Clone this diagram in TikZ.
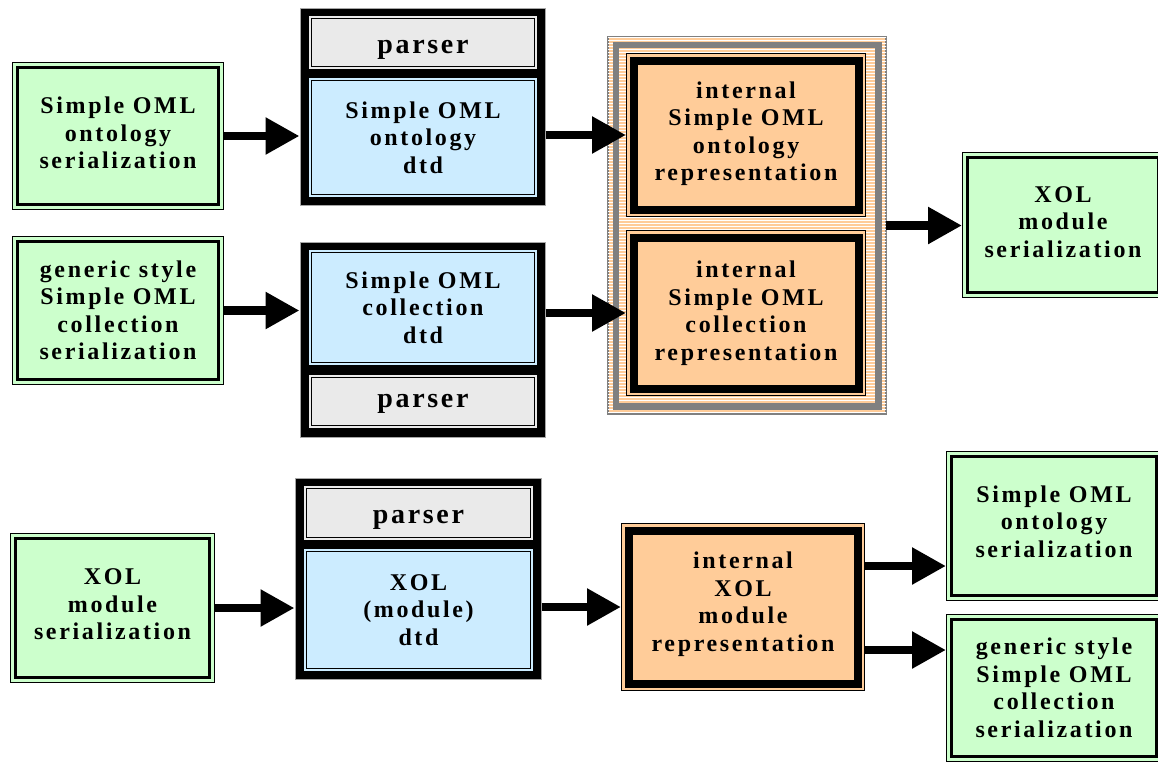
\documentclass[tikz,border=0pt]{standalone}
\usepackage{fontspec}
\newfontfamily\lblfont{Liberation Serif}[LetterSpace=11]
\newfontfamily\prsfont{Liberation Serif}[LetterSpace=9.5]
\usetikzlibrary{arrows.meta,patterns}
\definecolor{gfill}{HTML}{CCFFCC}
\definecolor{bfill}{HTML}{CCECFF}
\definecolor{pfill}{HTML}{EAEAEA}
\definecolor{ofill}{HTML}{FFCC99}
\definecolor{gband}{HTML}{808080}
\newcommand\dpth[1]{\rule[-#1]{0pt}{#1}}
\begin{document}
\begin{tikzpicture}[x=1pt,y=-1pt,
  lbl/.style={font=\lblfont\bfseries\fontsize{24}{27.5}\selectfont, align=center, text=black, inner sep=0pt},
  greenbox/.style={lbl, rectangle, fill=gfill, draw=black, line width=2.4pt, outer sep=5.6pt,
     preaction={draw=black, line width=11.2pt}, preaction={draw=gfill, line width=8.4pt}},
  dbox/.style={lbl, rectangle, fill=#1, draw=black, line width=1pt, outer sep=3.5pt,
     preaction={draw=black, line width=7pt}, preaction={draw=#1, line width=5pt}},
  pbox/.style={dbox=pfill, font=\prsfont\bfseries\fontsize{28}{30}\selectfont, text depth=0pt, text height=#1},
  obox/.style={lbl, rectangle, fill=ofill, draw=black, line width=8pt, outer sep=7.5pt,
     preaction={draw=black, line width=15pt}, preaction={draw=ofill, line width=13pt}},
  frame/.style={rectangle, fill=black, draw=gray!70, line width=1pt, inner sep=0pt, outer sep=0.5pt},
  grpbox/.style={rectangle, fill=ofill, postaction={pattern=horizontal lines, pattern color=white},
     draw=gband, line width=1.5pt, inner sep=0pt, outer sep=0pt},
  arr/.style={line width=8.5pt, -{Triangle[length=34pt,width=35pt]}}
]
\useasboundingbox (0,0) rectangle (1158,761);
\clip (0,0) rectangle (1158,761);

% ---- top row 1
\node[greenbox, minimum width=200.8pt, minimum height=136.8pt] (G1) at (118,136) {Simple OML\\ontology\\serialization\dpth{6pt}};
\node[frame, minimum width=245pt, minimum height=197pt] (g1) at (422.5,106.5) {};
\node[pbox=21pt, minimum width=223pt, minimum height=48pt] (p1) at (423,42.5) {parser};
\node[dbox=bfill, minimum width=223pt, minimum height=114pt] (d1) at (423,137.5) {Simple OML\\ontology\\dtd};

% ---- top row 2
\node[greenbox, minimum width=200.8pt, minimum height=137.8pt] (G2) at (118,310.5) {generic style\\Simple OML\\collection\\serialization};
\node[frame, minimum width=245pt, minimum height=195pt] (g2) at (422.5,339.5) {};
\node[dbox=bfill, minimum width=223pt, minimum height=110pt] (d2) at (423,307.5) {Simple OML\\collection\\dtd};
\node[pbox=11pt, minimum width=223pt, minimum height=48pt] (p2) at (423,401.5) {parser};

% ---- internal group
\node[grpbox, minimum width=278pt, minimum height=377pt] (grp) at (747,225.5) {};
\draw[gband, line width=6.5pt] ([shift={(7.75,7.75)}]grp.north west) rectangle ([shift={(-7.75,-7.75)}]grp.south east);
\node[obox, minimum width=225pt, minimum height=149pt] (O1) at (746,135) {internal\\Simple OML\\ontology\\representation\dpth{8pt}};
\node[obox, minimum width=225pt, minimum height=151pt] (O2) at (746,313) {internal\\Simple OML\\collection\\representation};

\node[greenbox, minimum width=190.8pt, minimum height=134.8pt] (X1) at (1063,225) {XOL\\module\\serialization\dpth{6pt}};

% ---- bottom row
\node[greenbox, minimum width=193.8pt, minimum height=138.8pt] (G3) at (112.5,608) {XOL\\module\\serialization\dpth{7pt}};
\node[frame, minimum width=246pt, minimum height=201pt] (g3) at (418,578.5) {};
\node[pbox=21pt, minimum width=224pt, minimum height=49pt] (p3) at (418.5,513) {parser};
\node[dbox=bfill, minimum width=224pt, minimum height=117pt] (d3) at (418.5,610) {XOL\\(module)\\dtd};
\node[obox, minimum width=229pt, minimum height=153pt] (O3) at (743,607) {internal\\XOL\\module\\representation\dpth{11pt}};
\node[greenbox, minimum width=204.8pt, minimum height=138.8pt] (Out1) at (1054,526) {Simple OML\\ontology\\serialization\dpth{9pt}};
\node[greenbox, minimum width=204.8pt, minimum height=136.8pt] (Out2) at (1054,688) {generic style\\Simple OML\\collection\\serialization};

% ---- connectors
\draw[arr] (G1.east) -- (G1.east -| g1.west);
\draw[arr] (O1.west -| g1.east) -- (O1.west);
\draw[arr] (G2.east) -- (G2.east -| g2.west);
\draw[arr] (O2.west -| g2.east) -- (O2.west);
\draw[arr] (grp.east) -- (grp.east -| X1.west);
\draw[arr] (G3.east) -- (G3.east -| g3.west);
\draw[arr] (O3.west -| g3.east) -- (O3.west);
\coordinate (ya) at (0,566);
\coordinate (yb) at (0,650);
\draw[arr] (O3.east |- ya) -- (Out1.west |- ya);
\draw[arr] (O3.east |- yb) -- (Out2.west |- yb);
\end{tikzpicture}
\end{document}
